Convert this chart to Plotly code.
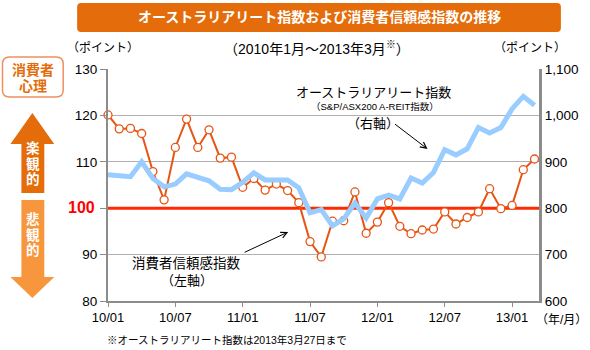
import plotly.graph_objects as go
import pandas as pd

# ---- data ----
months = pd.date_range("2010-01-01", "2013-03-01", freq="MS").strftime("%Y-%m").tolist()
consumer = [120.1, 117.1, 117.2, 116.1, 107.9, 101.8, 113.1, 119.2, 113.1, 116.9,
            110.8, 111.0, 104.5, 106.4, 103.9, 105.2, 103.8, 101.2, 92.8, 89.5,
            97.2, 97.3, 103.5, 94.6, 97.0, 101.2, 96.1, 94.5, 95.3, 95.5,
            99.2, 96.6, 98.0, 99.2, 104.2, 99.9, 100.6, 108.3, 110.6]
reit = [872, 870, 868, 900, 864, 846, 852, 874, 866, 859,
        841, 840, 856, 876, 861, 862, 861, 844, 790, 797,
        762, 777, 811, 779, 820, 828, 820, 865, 854, 877,
        926, 915, 928, 974, 962, 974, 1014, 1041, 1022]
tick_months = ["2010-01", "2010-07", "2011-01", "2011-07", "2012-01", "2012-07", "2013-01"]
tick_labels = ["10/01", "10/07", "11/01", "11/07", "12/01", "12/07", "13/01"]
left_ticks = [80, 90, 100, 110, 120, 130]
right_ticks = [600, 700, 800, 900, 1000, 1100]
baseline = 100

xpos = list(range(len(months)))
tickpos = [months.index(m) for m in tick_months]

W, H = 590, 350
L, R, T, B = 108, 49, 69, 49
PW, PH = W - L - R, H - T - B


def px(x):
    return (x - L) / PW


def py(y):
    return (H - B - y) / PH


JP = "Liberation Sans, Noto Sans CJK JP, sans-serif"
ORANGE = "#E65514"
DARK_OR = "#E46C0A"
LIGHT_OR = "#F7963C"

fig = go.Figure()
fig.add_trace(go.Scatter(x=xpos, y=reit, yaxis="y2", mode="lines",
                         line=dict(color="#99CCFF", width=5), hoverinfo="skip"))
fig.add_trace(go.Scatter(x=[-5, len(months) + 5], y=[baseline, baseline], mode="lines",
                         line=dict(color="#FF2A00", width=3), hoverinfo="skip"))
fig.add_trace(go.Scatter(x=xpos, y=consumer, mode="lines+markers",
                         line=dict(color=ORANGE, width=2),
                         marker=dict(symbol="circle", size=8, color="white",
                                     line=dict(color=ORANGE, width=1.3)),
                         cliponaxis=False, hoverinfo="skip"))

shapes = []
# white boxes behind labels (hide gridlines)
shapes.append(dict(type="rect", xref="paper", yref="paper", layer="between",
                   x0=px(289), x1=px(461), y0=py(130), y1=py(80),
                   fillcolor="white", line=dict(width=0)))
shapes.append(dict(type="rect", xref="paper", yref="paper", layer="between",
                   x0=px(121), x1=px(253), y0=py(290), y1=py(250),
                   fillcolor="white", line=dict(width=0)))


def path(points):
    s = ""
    for i, (x, y) in enumerate(points):
        s += ("M" if i == 0 else "L") + f"{px(x):.5f},{py(y):.5f}"
    return s + "Z"


def rounded(x0, y0, x1, y1, r):
    p = [f"M{px(x0 + r):.5f},{py(y0):.5f}",
         f"L{px(x1 - r):.5f},{py(y0):.5f}",
         f"Q{px(x1):.5f},{py(y0):.5f} {px(x1):.5f},{py(y0 + r):.5f}",
         f"L{px(x1):.5f},{py(y1 - r):.5f}",
         f"Q{px(x1):.5f},{py(y1):.5f} {px(x1 - r):.5f},{py(y1):.5f}",
         f"L{px(x0 + r):.5f},{py(y1):.5f}",
         f"Q{px(x0):.5f},{py(y1):.5f} {px(x0):.5f},{py(y1 - r):.5f}",
         f"L{px(x0):.5f},{py(y0 + r):.5f}",
         f"Q{px(x0):.5f},{py(y0):.5f} {px(x0 + r):.5f},{py(y0):.5f}Z"]
    return "".join(p)


# title box
shapes.append(dict(type="path", xref="paper", yref="paper", path=rounded(77, 3, 563, 32, 4),
                   fillcolor=DARK_OR, line=dict(width=0)))
# 消費者心理 box
shapes.append(dict(type="path", xref="paper", yref="paper", path=rounded(2, 57, 63, 97, 7),
                   fillcolor="white", line=dict(color="#EE9060", width=1.5)))
# up arrow
shapes.append(dict(type="path", xref="paper", yref="paper",
                   path=path([(32, 113), (54, 144), (44, 144), (44, 193), (21, 193), (21, 144), (10, 144)]),
                   fillcolor=DARK_OR, line=dict(width=0)))
# down arrow
shapes.append(dict(type="path", xref="paper", yref="paper",
                   path=path([(21, 200), (44, 200), (44, 277), (54, 277), (32, 298), (10, 277), (21, 277)]),
                   fillcolor=LIGHT_OR, line=dict(width=0)))

ann = []


def text(x, y, t, size=12, color="black", xanchor="center", bold=False, family=JP):
    if bold:
        t = f"<b>{t}</b>"
    ann.append(dict(x=px(x), y=py(y), xref="paper", yref="paper", text=t, showarrow=False,
                    xanchor=xanchor, yanchor="middle", font=dict(size=size, color=color, family=family)))


text(320, 17.5, "オーストラリアリート指数および消費者信頼感指数の推移", 14, "white", bold=True)
text(318, 48, "（2010年1月～2013年3月<sup>※</sup>）", 14)
text(103, 48, "（ポイント）", 12)
text(532, 48, "（ポイント）", 12)
text(32.5, 70, "消費者", 14, DARK_OR, bold=True)
text(32.5, 86, "心理", 14, DARK_OR, bold=True)
for i, ch in enumerate("楽観的"):
    text(32.5, 148 + i * 15.5, ch, 13.5, "white", bold=True)
for i, ch in enumerate("悲観的"):
    text(32.5, 219 + i * 15.5, ch, 13.5, "white", bold=True)
text(97, 207.5, "100", 16, "#FF0000", xanchor="right", bold=True, family="Liberation Sans, Arial")
text(105, 340, "※オーストラリアリート指数は2013年3月27日まで", 10.5, xanchor="left")
text(564, 320, "（年/月）", 12)
text(375, 92, "オーストラリアリート指数", 13)
text(376, 106, "（S&amp;P/ASX200 A-REIT指数）", 9.5)
text(374, 123, "（右軸）", 13)
text(187, 263, "消費者信頼感指数", 13.5)
text(187, 280, "（左軸）", 13)

# arrows
ann.append(dict(x=px(429), y=py(149), xref="paper", yref="paper", text="", showarrow=True,
                ax=-34, ay=-26, arrowhead=5, arrowsize=1.2, arrowwidth=1, arrowcolor="black"))
ann.append(dict(x=px(289), y=py(232), xref="paper", yref="paper", text="", showarrow=True,
                ax=-45, ay=21, arrowhead=5, arrowsize=1.2, arrowwidth=1, arrowcolor="black"))

fig.update_layout(
    width=W, height=H, margin=dict(l=L, r=R, t=T, b=B, pad=0),
    paper_bgcolor="white", plot_bgcolor="white", showlegend=False,
    font=dict(family=JP, size=13, color="black"),
    shapes=shapes, annotations=ann,
    xaxis=dict(range=[0, 38.4], tickmode="array", tickvals=tickpos, ticktext=tick_labels,
               showgrid=False, zeroline=False, showline=True, linecolor="#8C8C8C", linewidth=1.5,
               ticks="outside", ticklen=4, tickcolor="#8C8C8C", tickwidth=1,
               tickfont=dict(size=13, family="Liberation Sans, Arial")),
    yaxis=dict(range=[80, 130], tickmode="array", tickvals=left_ticks,
               ticktext=["" if v == baseline else str(v) for v in left_ticks],
               showgrid=True, gridcolor="#B0B0B0", gridwidth=1.3, zeroline=False,
               showline=True, linecolor="#8C8C8C", linewidth=2,
               ticks="outside", ticklen=6, tickcolor="#8C8C8C",
               tickfont=dict(size=13.5, family="Liberation Sans, Arial")),
    yaxis2=dict(range=[600, 1100], overlaying="y", side="right", tickmode="array",
                tickvals=right_ticks, ticktext=[f"{v:,}" for v in right_ticks],
                showgrid=False, zeroline=False, showline=True, linecolor="#8C8C8C", linewidth=3,
                ticks="", tickfont=dict(size=13.5, family="Liberation Sans, Arial")),
)

fig.write_html("out.html")
